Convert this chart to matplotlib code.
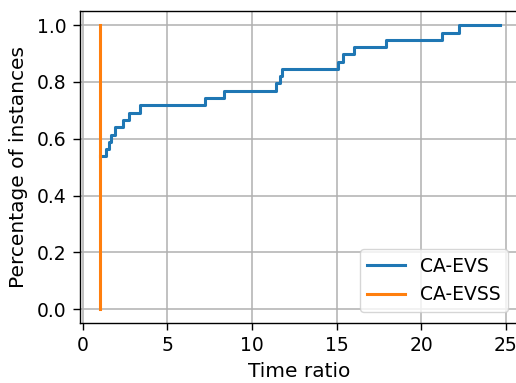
import matplotlib
matplotlib.use("Agg")
import matplotlib.pyplot as plt

# CA-EVS performance profile (step, post)
evs_ratio = [1.0, 1.36, 1.56, 1.70, 1.93, 2.38, 2.72, 3.37, 7.22, 8.36,
             11.40, 11.67, 11.75, 15.10, 15.36, 16.05, 17.93, 21.22, 22.21, 24.63]
evs_frac = [0.538, 0.564, 0.590, 0.615, 0.641, 0.667, 0.692, 0.718, 0.744, 0.769,
            0.795, 0.821, 0.846, 0.872, 0.897, 0.923, 0.949, 0.974, 1.0, 1.0]

# CA-EVSS profile
evss_ratio = [1.0, 1.0]
evss_frac = [0.0, 1.0]

series_names = ["CA-EVS", "CA-EVSS"]

fig = plt.figure(figsize=(5.16, 3.83), dpi=100)
W, H = 516, 383
ax = fig.add_axes([79.6 / W, (H - 323.3) / H, 440 / W, 312.3 / H])

ax.step(evs_ratio, evs_frac, where='post', color='#1f77b4', lw=2.2, label=series_names[0])
ax.step(evss_ratio, evss_frac, where='post', color='#ff7f0e', lw=2.2, label=series_names[1])

ax.set_xticks([0, 5, 10, 15, 20, 25])
ax.set_yticks([0.0, 0.2, 0.4, 0.6, 0.8, 1.0])
ax.tick_params(labelsize=13.5, length=5, pad=4.5, width=1.0)
ax.grid(True, color='#b0b0b0', lw=1.1)
ax.set_axisbelow(True)
for s in ax.spines.values():
    s.set_linewidth(1.0)
ax.set_xlabel("Time ratio", fontsize=14.5, labelpad=4.5)
ax.set_ylabel("Percentage of instances", fontsize=14.5, labelpad=6)
ax.legend(loc='lower right', fontsize=13.5, borderaxespad=0.62)

fig.savefig("out.png", dpi=100)
